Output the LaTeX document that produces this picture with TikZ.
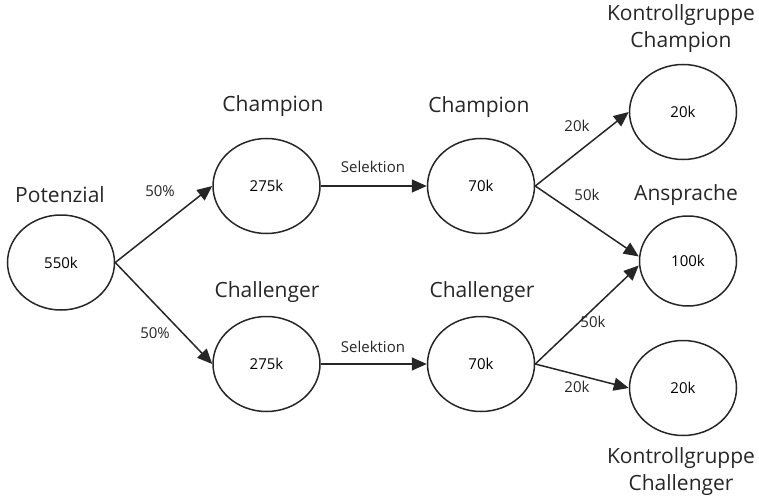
\documentclass[tikz,border=0pt]{standalone}
\usepackage{fontspec}
\setmainfont{Open Sans}
\usetikzlibrary{shapes.geometric,arrows.meta}
\begin{document}
\begin{tikzpicture}[x=1pt,y=-1pt,
  state/.style={draw=black!85,line width=1.5pt,ellipse,inner sep=0pt,
    minimum width=107pt,minimum height=95pt,font=\fontsize{15}{18}\selectfont},
  title/.style={font=\fontsize{21}{27}\selectfont,text=black!85,align=center,inner sep=0pt},
  flowlabel/.style={font=\fontsize{15}{18}\selectfont,text=black!85,inner sep=0pt},
  flow/.style={draw=black!85,line width=1.5pt,-{Triangle[length=15pt,width=13pt]}}]
\useasboundingbox (0,0) rectangle (759,497);

% states
\node[state] (pot) at (61,262.5) {550k};
\node[state] (ch1) at (266.5,186) {275k};
\node[state] (cl1) at (266.5,364) {275k};
\node[state] (ch2) at (481,186) {70k};
\node[state] (cl2) at (481,364) {70k};
\node[state] (kc)  at (683,112) {20k};
\node[state,minimum width=97pt,minimum height=90pt] (ans) at (688,261) {100k};
\node[state] (kl)  at (683,388) {20k};

% titles
\node[title] (tpot) at (60,195) {Potenzial};
\node[title] (tch1) at (273,106) {Champion};
\node[title] (tcl1) at (267,292) {Challenger};
\node[title] (tch2) at (479,107) {Champion};
\node[title] (tcl2) at (482,292) {Challenger};
\node[title] (tkc)  at (681,28.5) {Kontrollgruppe\\Champion};
\node[title] (tans) at (686,195) {Ansprache};
\node[title] (tkl)  at (681,471.5) {Kontrollgruppe\\Challenger};

% connectors
\draw[flow] (pot.east) -- (ch1.west);
\draw[flow] (pot.east) -- (cl1.west);
\draw[flow] (ch1.east) -- (ch2.west);
\draw[flow] (cl1.east) -- (cl2.west);
\draw[flow] (ch2.east) -- (kc.west);
\draw[flow] (ch2.east) -- ([yshift=4.5pt]ans.west);
\draw[flow] (cl2.east) -- ([yshift=-4.5pt]ans.west);
\draw[flow] (cl2.east) -- (kl.west);

% connector labels
\node[flowlabel] (l1) at (160,191) {50\%};
\node[flowlabel] (l2) at (155,333) {50\%};
\node[flowlabel] (l3) at (373,167) {Selektion};
\node[flowlabel] (l4) at (373,347) {Selektion};
\node[flowlabel] (l5) at (577,126) {20k};
\node[flowlabel] (l6) at (587,195) {50k};
\node[flowlabel] (l7) at (593,322) {50k};
\node[flowlabel] (l8) at (577,387) {20k};
\end{tikzpicture}
\end{document}
